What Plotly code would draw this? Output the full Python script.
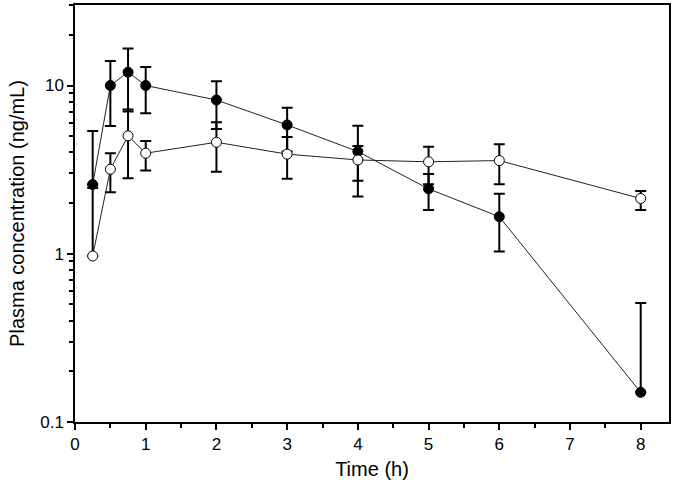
import plotly.graph_objects as go

time_h = [0.25, 0.5, 0.75, 1, 2, 3, 4, 5, 6, 8]

filled_mean = [2.58, 10.0, 12.0, 10.0, 8.2, 5.83, 4.05, 2.43, 1.66, 0.15]
filled_upper = [5.37, 14.0, 16.6, 12.9, 10.6, 7.38, 5.77, 2.98, 2.27, 0.51]
filled_lower = [None, 5.74, 7.0, 6.84, 5.52, 4.05, 2.19, 1.82, 1.03, None]

open_mean = [0.97, 3.18, 5.02, 3.96, 4.6, 3.91, 3.61, 3.52, 3.58, 2.13]
open_upper = [2.46, 3.96, 7.2, 4.68, 6.04, 4.95, 4.37, 4.33, 4.48, 2.36]
open_lower = [None, 2.32, 2.81, 3.12, 3.07, 2.79, 2.72, 2.59, 2.59, 1.82]

x_ticks = [0, 1, 2, 3, 4, 5, 6, 7, 8]
y_ticks = [0.1, 1, 10]
y_tick_labels = ["0.1", "1", "10"]


def err_plus(mean, upper):
    return [u - m for m, u in zip(mean, upper)]


def err_minus(mean, lower):
    return [(m - l) if l is not None else 0 for m, l in zip(mean, lower)]


fig = go.Figure()

fig.add_trace(go.Scatter(
    x=time_h, y=filled_mean, mode="lines+markers",
    line=dict(color="#222222", width=1),
    marker=dict(symbol="circle", size=10, color="black",
                line=dict(color="black", width=1)),
    error_y=dict(type="data", symmetric=False,
                 array=err_plus(filled_mean, filled_upper),
                 arrayminus=err_minus(filled_mean, filled_lower),
                 color="black", thickness=2, width=5.5),
    showlegend=False,
))

fig.add_trace(go.Scatter(
    x=time_h, y=open_mean, mode="lines+markers",
    line=dict(color="#222222", width=1),
    marker=dict(symbol="circle", size=10, color="white",
                line=dict(color="black", width=1)),
    error_y=dict(type="data", symmetric=False,
                 array=err_plus(open_mean, open_upper),
                 arrayminus=err_minus(open_mean, open_lower),
                 color="black", thickness=2, width=5.5),
    showlegend=False,
))

font_family = "Liberation Sans, Arial, sans-serif"

fig.update_layout(
    width=677, height=497,
    margin=dict(l=75, r=8, t=5, b=75),
    paper_bgcolor="white", plot_bgcolor="white",
    font=dict(family=font_family, color="black", size=17),
)

fig.update_xaxes(
    range=[0, 8.4], showgrid=False, zeroline=False, automargin=False,
    showline=True, linecolor="black", linewidth=1.5, mirror=True,
    ticks="outside", ticklen=6, tickwidth=1.5, tickcolor="black",
    tickvals=x_ticks, ticktext=[str(v) for v in x_ticks],
    tickfont=dict(size=17),
    minor=dict(dtick=0.5, tick0=0, ticks="outside", ticklen=4,
               tickwidth=1.5, tickcolor="black", showgrid=False),
    title=dict(text="Time (h)", font=dict(size=20), standoff=9),
)

minor_y = [m * 10 ** e for e in (-1, 0, 1) for m in range(2, 10) if m * 10 ** e < 31]

fig.update_yaxes(
    type="log", range=[-1, 1.4786], showgrid=False, zeroline=False, automargin=False,
    showline=True, linecolor="black", linewidth=1.5, mirror=True,
    ticks="outside", ticklen=6, tickwidth=1.5, tickcolor="black",
    tickvals=y_ticks, ticktext=y_tick_labels,
    tickfont=dict(size=17),
    minor=dict(tickvals=minor_y, ticks="outside", ticklen=4,
               tickwidth=1.5, tickcolor="black", showgrid=False),
    title=dict(text="Plasma concentration (ng/mL)", font=dict(size=20), standoff=10),
)

fig.write_html(
    "out.html",
    config={"responsive": False, "displayModeBar": False},
    post_script="document.body.style.margin='0';",
)
